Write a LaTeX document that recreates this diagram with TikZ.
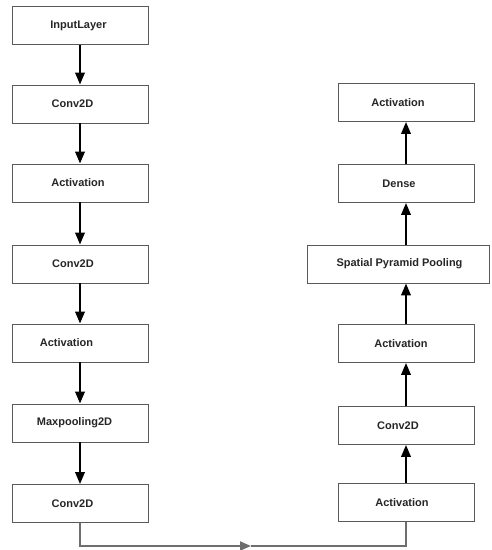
\documentclass[tikz,border=0pt]{standalone}
\usepackage{fontspec}
\setmainfont{Liberation Sans}
\usetikzlibrary{arrows.meta}
\definecolor{boxline}{HTML}{5A5A5A}
\definecolor{flowgray}{HTML}{6E6E6E}
\tikzset{
  layer/.style={draw=boxline, line width=0.9pt, fill=white, minimum width=136pt, minimum height=38pt, inner sep=0pt,
    font=\fontsize{11}{13}\selectfont\bfseries, text=black!85},
  flow/.style={line width=2.2pt, black, -{Triangle[length=12pt,width=9.5pt]}},
  back/.style={line width=2pt, flowgray},
}
\begin{document}
\begin{tikzpicture}[x=1pt,y=-1pt]
\useasboundingbox (0,0) rectangle (491,550);
% left column
\node[layer] (in) at (80,25.5) {InputLayer\hspace*{3pt}};
\node[layer] (c1) at (80,104) {Conv2D\hspace*{15pt}};
\node[layer] (a1) at (80,183) {Activation\hspace*{4pt}};
\node[layer] (c2) at (80,264) {Conv2D\hspace*{14pt}};
\node[layer] (a2) at (80,343) {Activation\hspace*{27pt}};
\node[layer] (mp) at (80,423) {Maxpooling2D\hspace*{11pt}};
\node[layer] (c3) at (80,503.5) {Conv2D\hspace*{15pt}};
% right column
\node[layer] (a3) at (406,502.5) {Activation\hspace*{8pt}};
\node[layer] (c4) at (406,425.5) {Conv2D\hspace*{16pt}};
\node[layer] (a4) at (406,343.5) {Activation\hspace*{10pt}};
\node[layer, minimum width=182pt] (spp) at (398,264) {\hspace*{3pt}Spatial Pyramid Pooling};
\node[layer] (d) at (406,183.5) {Dense\hspace*{14pt}};
\node[layer] (a5) at (406,102.5) {Activation\hspace*{16pt}};
% arrows
\draw[flow] (in) -- (c1);
\draw[flow] (c1) -- (a1);
\draw[flow] (a1) -- (c2);
\draw[flow] (c2) -- (a2);
\draw[flow] (a2) -- (mp);
\draw[flow] (mp) -- (c3);
\draw[flow] (a3) -- (c4);
\draw[flow] (c4) -- (a4);
\draw[flow] (a4.north) -- (a4.north |- spp.south);
\draw[flow] (spp.north -| d.south) -- (d);
\draw[flow] (d) -- (a5);
% bottom connector
\coordinate (b1) at (80,546);
\coordinate (bm) at (251,546);
\coordinate (b2) at (406,546);
\draw[back, -{Triangle[length=11pt,width=9pt]}] (c3.south) -- (b1) -- (bm);
\draw[back] (bm) -- (b2) -- (a3.south);
\end{tikzpicture}
\end{document}
